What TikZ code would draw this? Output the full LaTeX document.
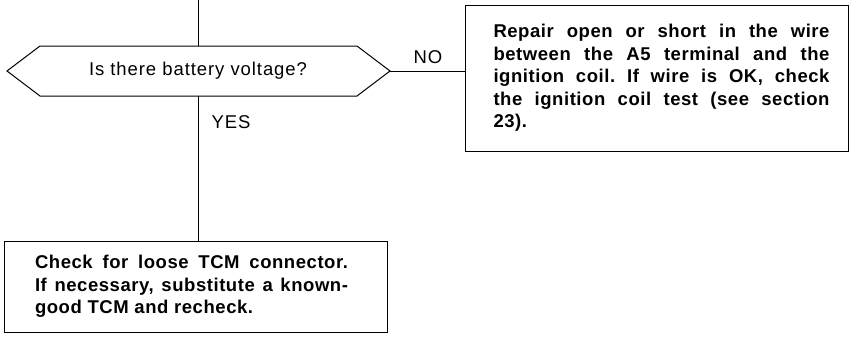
\documentclass[tikz,border=0pt]{standalone}
\usepackage{fontspec}
\setmainfont{Liberation Sans}
\begin{document}
\begin{tikzpicture}[x=1pt,y=-1pt,line width=1pt,
  txt/.style={inner sep=0pt,font=\fontsize{18.5}{22.5}\selectfont\addfontfeatures{LetterSpace=5}},
  actbox/.style={draw,line width=1pt,inner sep=0pt,minimum width=383pt,align=left,
    font=\fontsize{18.5}{22.5}\selectfont\bfseries\frenchspacing\addfontfeatures{LetterSpace=3}}]
\useasboundingbox (0,0) rectangle (851,338);
% decision hexagon
\coordinate (dL)  at (7,71);
\coordinate (dTL) at (40,46);
\coordinate (dTR) at (357,46);
\coordinate (dR)  at (390,71);
\coordinate (dBR) at (357,96);
\coordinate (dBL) at (40,96);
\coordinate (dT)  at (198,46);
\coordinate (dB)  at (198,96);
\coordinate (in)  at (198,0);
\draw (dL) -- (dTL) -- (dTR) -- (dR) -- (dBR) -- (dBL) -- cycle;
\node[txt] (q) at (198,71) {Is there battery voltage?};
% action boxes
\node[actbox,minimum height=146pt] (fix) at (656.5,78) {%
\hspace*{10pt}\makebox[336pt][s]{Repair open or short in the wire}\\
\hspace*{10pt}\makebox[336pt][s]{between the A5 terminal and the}\\
\hspace*{10pt}\makebox[336pt][s]{ignition coil. If wire is OK, check}\\
\hspace*{10pt}\makebox[336pt][s]{the ignition coil test (see section}\\
\hspace*{10pt}23).};
\node[actbox,minimum height=91pt] (chk) at (195.5,286.5) {%
\makebox[313pt][s]{Check for loose TCM connector.}\hspace*{8pt}\\
\makebox[313pt][s]{If necessary, substitute a known-}\\
good TCM and recheck.};
% connectors
\draw (in) -- (dT);
\draw (dR) -- (dR -| fix.west);
\draw (dB) -- (dB |- chk.north);
% labels
\node[txt] (no) at (428,57) {NO};
\node[txt] (yes) at (231,122) {YES};
\end{tikzpicture}
\end{document}
